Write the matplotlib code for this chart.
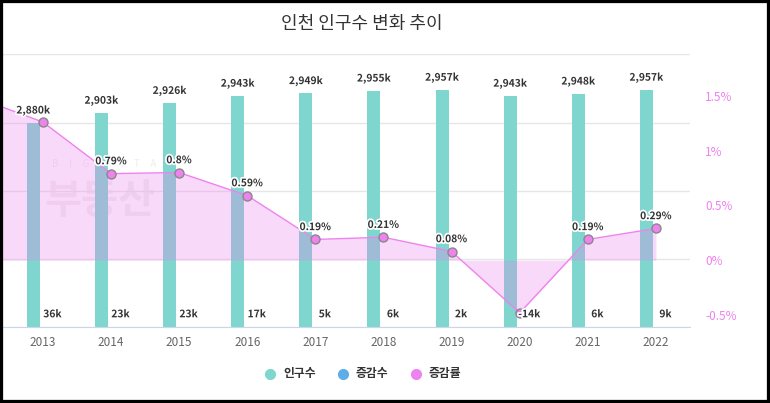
import numpy as np
import matplotlib
matplotlib.use('Agg')
import matplotlib.pyplot as plt
import matplotlib.patheffects as pe
from matplotlib.lines import Line2D
from matplotlib.patches import Rectangle

plt.rcParams['font.family'] = ['Noto Sans CJK KR', 'DejaVu Sans']

# data (k persons, %)
years = [2013, 2014, 2015, 2016, 2017, 2018, 2019, 2020, 2021, 2022]
population = [2880, 2903, 2926, 2943, 2949, 2955, 2957, 2943, 2948, 2957]
change = [36, 23, 23, 17, 5, 6, 2, -14, 6, 9]
rate_years = [2012, 2013, 2014, 2015, 2016, 2017, 2018, 2019, 2020, 2021, 2022]
rates = [1.49, 1.26, 0.79, 0.8, 0.59, 0.19, 0.21, 0.08, -0.48, 0.19, 0.29]
rate_label_hidden = [2012, 2013, 2020]
series_names = ['인구수', '증감수', '증감률']
colors = ['#7ed6ce', '#5dade9', 'violet']

W, H = 770, 403
fig = plt.figure(figsize=(W / 100, H / 100), dpi=100)
ax = fig.add_axes([0, 1 - 327.3 / H, 690 / W, 273 / H])

x = np.arange(len(years))
bw = 0.19
ax.bar(x - 0.14, population, bw, color=colors[0], zorder=2)
ax.bar(x + 0.14, change, bw, color=colors[1], zorder=2)
ax.set_ylim(2400, 3040)
ax.set_xlim(-0.63, 9.5)
ax.set_yticks(np.linspace(2400, 3040, 5))
ax.tick_params(axis='y', length=0, labelleft=False)
ax.grid(axis='y', color='#e6e6e6', lw=1)
ax.set_axisbelow(True)
for s in ['top', 'left', 'right']:
    ax.spines[s].set_visible(False)
ax.spines['bottom'].set_color('#ccd6eb')
ax.set_xticks(x, [str(y) for y in years])
ax.tick_params(axis='x', length=0, pad=6, labelsize=8.5, labelcolor='#666666')

# faint watermark
ax.text(100 / W, 1 - 202 / H, '부동산', transform=fig.transFigure, ha='center', va='center',
        fontsize=29, weight='bold', color='#f0f0f0', zorder=0)
ax.text(52 / W, 1 - 164 / H, 'B     I     G     D     A     T     A', transform=fig.transFigure,
        ha='left', va='center', fontsize=7, color='#eeeeee', zorder=0)

ax2 = ax.twinx()
ax2.set_ylim(-0.611, 1.878)
rx = np.array(rate_years) - years[0]
ax2.fill_between(rx, rates, 0, color='violet', alpha=0.3, lw=0, zorder=1)
ax2.plot(rx, rates, color='violet', lw=1, marker='o', ms=6.5, mfc='violet',
         mec='#888888', mew=1, zorder=3)
ax2.set_yticks([-0.5, 0, 0.5, 1, 1.5], ['-0.5%', '0%', '0.5%', '1%', '1.5%'])
ax2.tick_params(axis='y', length=0, pad=11, labelsize=8.5, labelcolor='violet')
for s in ax2.spines.values():
    s.set_visible(False)

outline = [pe.withStroke(linewidth=2.5, foreground='white')]
lab = dict(ha='center', va='baseline', fontsize=7.4, weight='bold', color='#333333',
           textcoords='offset points', path_effects=outline, zorder=5)

for xi, p in zip(x, population):
    ax2.annotate(f'{p:,}k', xy=(xi - 0.14, p), xycoords=ax.transData, xytext=(0, 6.5), **lab)

for xi, c in zip(x, change):
    ax2.annotate(f'{c}k', xy=(xi + 0.14, 0), xycoords=('data', 'axes fraction'),
                 xytext=(0, 7.2), **lab)

for yr, xi, r in zip(rate_years, rx, rates):
    if yr in rate_label_hidden:
        continue
    ax2.annotate(f'{r:g}%', xy=(xi, r), xycoords='data', xytext=(0, 6.7), **lab)

fig.text(362 / W, 1 - 23.5 / H, '인천 인구수 변화 추이', ha='center', va='center',
         fontsize=13, color='#333333')

for i, (name, c) in enumerate(zip(series_names, colors)):
    cx = 270 + i * 73
    fig.add_artist(Line2D([cx / W], [1 - 374 / H], transform=fig.transFigure,
                          marker='o', ms=7, color=c, ls=''))
    fig.text((cx + 13) / W, 1 - 374 / H, name, va='center', fontsize=8.5,
             weight='bold', color='#333333')

fig.add_artist(Rectangle((0, 0), 1, 1, transform=fig.transFigure, fill=False,
                         ec='black', lw=4.5, zorder=10))

fig.savefig('out.png', dpi=100)
